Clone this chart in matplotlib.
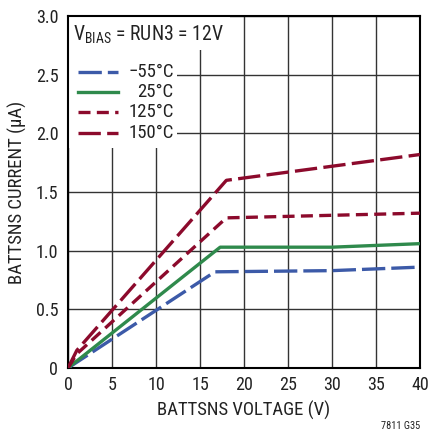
import matplotlib.pyplot as plt
from matplotlib.lines import Line2D
from matplotlib.patches import Rectangle

# curve data (BATTSNS voltage V, current uA)
v_m55 = [0, 16.7, 30, 40]
i_m55 = [0, 0.82, 0.83, 0.86]
v_25 = [0, 17.3, 30, 40]
i_25 = [0, 1.03, 1.03, 1.06]
v_125 = [0, 1, 18, 40]
i_125 = [0, 0.12, 1.28, 1.32]
v_150 = [0, 1, 18, 40]
i_150 = [0, 0.15, 1.60, 1.82]

labels = ["\u221255\u00b0C", "25\u00b0C", "125\u00b0C", "150\u00b0C"]
x_ticks = [0, 5, 10, 15, 20, 25, 30, 35, 40]
y_ticks = [0, 0.5, 1.0, 1.5, 2.0, 2.5, 3.0]
y_ticklabels = ["0", "0.5", "1.0", "1.5", "2.0", "2.5", "3.0"]

plt.rcParams['font.family'] = ['Roboto Condensed', 'Archivo Narrow', 'DejaVu Sans']

BLUE = "#3c5aa8"
GREEN = "#2f8a4c"
RED = "#8c0a2c"
TXT = "#222222"
LW = 2.4

styles = [
    dict(color=BLUE, linestyle=(0, (7.0, 1.8))),
    dict(color=GREEN, linestyle="-"),
    dict(color=RED, linestyle=(0, (3.6, 1.9))),
    dict(color=RED, linestyle=(0, (6.7, 1.9))),
]

fig = plt.figure(figsize=(4.36, 4.36), dpi=100)
ax = fig.add_axes([0.156, 0.156, 0.807, 0.807])

ax.set_xlim(0, 40)
ax.set_ylim(0, 3.0)
ax.set_xticks(x_ticks)
ax.set_yticks(y_ticks)
ax.set_yticklabels(y_ticklabels)
ax.tick_params(length=0, labelsize=13, colors=TXT)
ax.tick_params(axis="x", pad=6)
ax.tick_params(axis="y", pad=7)
ax.grid(True, color="#333333", linewidth=1.0, zorder=1)
for s in ax.spines.values():
    s.set_linewidth(1.5)

# white boxes so the grid stops under the title and legend
ax.add_patch(Rectangle((0, 0.905), 0.46, 0.095, transform=ax.transAxes,
                       facecolor="white", edgecolor="none", zorder=2))
ax.add_patch(Rectangle((0, 0.625), 0.31, 0.285, transform=ax.transAxes,
                       facecolor="white", edgecolor="none", zorder=2))

series = [(v_m55, i_m55), (v_25, i_25), (v_125, i_125), (v_150, i_150)]
for (xv, yv), st in zip(series, styles):
    ax.plot(xv, yv, linewidth=LW, zorder=3, solid_capstyle="butt",
            dash_capstyle="butt", **st)

ax.text(0.015, 0.946, r"V$_{\mathregular{BIAS}}$ = RUN3 = 12V", transform=ax.transAxes,
        fontsize=14.2, va="center", ha="left", zorder=4, color=TXT)

# legend
leg_y = [0.841, 0.785, 0.727, 0.668]
for lab, st, y in zip(labels, styles, leg_y):
    ax.add_line(Line2D([0.028, 0.142], [y, y], transform=ax.transAxes,
                       linewidth=LW, zorder=4, dash_capstyle="butt", **st))
    ax.text(0.30, y, lab, transform=ax.transAxes, fontsize=13.5, ha="right",
            va="center", zorder=4, color=TXT)

ax.set_xlabel("BATTSNS VOLTAGE (V)", fontsize=13.5, color=TXT, labelpad=5)
ax.set_ylabel("BATTSNS CURRENT (\u03bcA)", fontsize=13.5, color=TXT, labelpad=6)

fig.text(0.963, 0.012, "7811 G35", fontsize=7.5, ha="right", va="bottom", color=TXT)

fig.savefig("out.png", dpi=100)
